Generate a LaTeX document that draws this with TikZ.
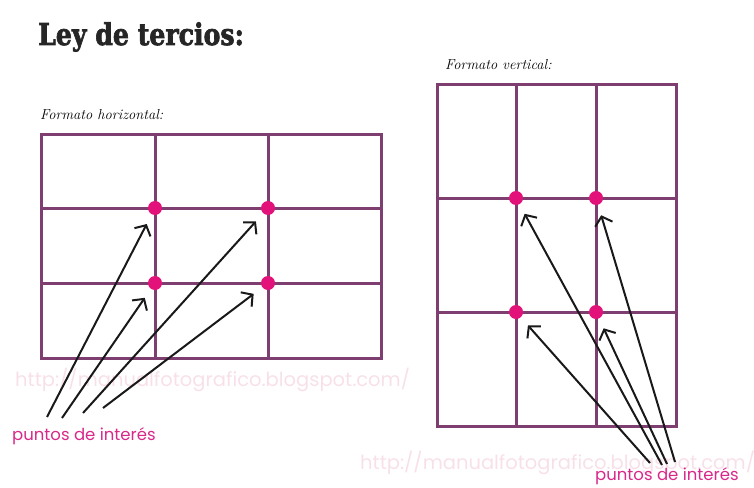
\documentclass[tikz,border=0pt]{standalone}
\usepackage{fontspec}
\setmainfont{Latin Modern Roman}
\newfontfamily\titlefont[BoldFeatures={FakeBold=2.5}]{DejaVu Serif}
\newfontfamily\labelfont{Poppins}
\usetikzlibrary{arrows.meta}
\definecolor{gridc}{HTML}{7E3F70}
\definecolor{dotc}{HTML}{E2127A}
\definecolor{pinkt}{HTML}{D8288A}
\definecolor{wmark}{HTML}{F8E0EA}
\tikzset{
  gridline/.style={draw=gridc, line width=3pt},
  dotnode/.style={circle, fill=dotc, inner sep=0pt, minimum size=14pt},
  pointer/.style={draw=black!90, line width=2pt, -{Straight Barb[length=8pt,width=18pt,line width=2pt]}, shorten >=18pt},
  ptlabel/.style={text=pinkt, font=\labelfont\fontsize{16.5}{18}\selectfont, inner sep=0pt, anchor=base west},
  wmtext/.style={text=wmark, font=\labelfont\fontsize{19.5}{21}\selectfont, inner sep=0pt, anchor=base west},
  hand/.style={font=\itshape\fontsize{14.5}{15}\selectfont, inner sep=0pt, anchor=base west}
}
\begin{document}
\begin{tikzpicture}[x=1pt,y=-1pt]
\useasboundingbox (0,0) rectangle (754,487);
% watermarks
\node[wmtext] (wm1) at (15,386) {http://manualfotografico.blogspot.com/};
\node[wmtext] (wm2) at (360,469) {http://manualfotografico.blogspot.com/};
% title
\node[inner sep=0pt, anchor=base west, xscale=0.84, font=\titlefont\bfseries\fontsize{30}{32}\selectfont, text=black!85] (title) at (38,45) {Ley de tercios:};
\node[hand] (hl) at (40,119) {Formato horizontal:};
\node[hand] (vl) at (445,70) {Formato vertical:};
% left grid
\draw[gridline] (41,134) rectangle (381,358);
\draw[gridline] (155,134) -- (155,358);
\draw[gridline] (268,134) -- (268,358);
\draw[gridline] (41,208) -- (381,208);
\draw[gridline] (41,283) -- (381,283);
% right grid
\draw[gridline] (437,84) rectangle (676,426);
\draw[gridline] (516,84) -- (516,426);
\draw[gridline] (596,84) -- (596,426);
\draw[gridline] (437,198) -- (676,198);
\draw[gridline] (437,312) -- (676,312);
% dots
\node[dotnode] (l1) at (155,208) {};
\node[dotnode] (l2) at (268,208) {};
\node[dotnode] (l3) at (155,283) {};
\node[dotnode] (l4) at (268,283) {};
\node[dotnode] (r1) at (516,198) {};
\node[dotnode] (r2) at (596,198) {};
\node[dotnode] (r3) at (516,312) {};
\node[dotnode] (r4) at (596,312) {};
% tails
\coordinate (a1) at (47,417);
\coordinate (a2) at (62,418);
\coordinate (a3) at (83,413);
\coordinate (a4) at (103,408);
\coordinate (b1) at (650,463);
\coordinate (b2) at (662,465);
\coordinate (b3) at (667,464);
\coordinate (b4) at (675,462);
\draw[pointer] (a1) -- (l1.center);
\draw[pointer] (a2) -- (l3.center);
\draw[pointer] (a3) -- (l2.center);
\draw[pointer] (a4) -- (l4.center);
\draw[pointer] (b1) -- (r3.center);
\draw[pointer] (b2) -- (r1.center);
\draw[pointer] (b3) -- (r4.center);
\draw[pointer] (b4) -- (r2.center);
% labels
\node[ptlabel] (pl) at (12,440) {puntos de interés};
\node[ptlabel] (pr) at (595,480) {puntos de interés};
\end{tikzpicture}
\end{document}
